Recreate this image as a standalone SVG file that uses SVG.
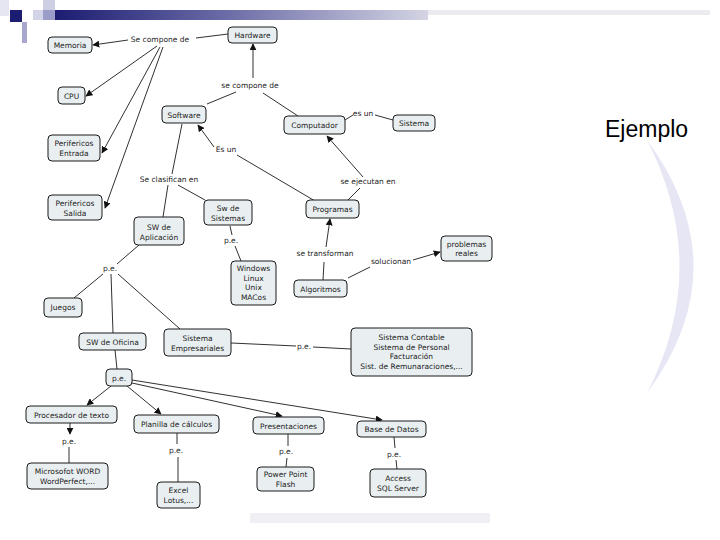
<svg xmlns="http://www.w3.org/2000/svg" width="720" height="540" viewBox="0 0 720 540">
<defs>
<linearGradient id="bar" x1="0" x2="1" y1="0" y2="0">
<stop offset="0" stop-color="#1c1c72"/>
<stop offset="0.45" stop-color="#6a6aa6"/>
<stop offset="1" stop-color="#d4d4e4"/>
</linearGradient>
<marker id="ah" viewBox="0 0 10 10" refX="9" refY="5" markerWidth="7" markerHeight="7" markerUnits="userSpaceOnUse" orient="auto">
<path d="M0,0 L10,5 L0,10 z" fill="#111"/>
</marker>
<style>
.n rect{fill:#e9eff1;stroke:#1a1a1a;stroke-width:1}
.n text,.l{font-family:"DejaVu Sans",Verdana,sans-serif;font-size:7.5px;fill:#222;text-anchor:middle}
.c line,.c path{stroke:#1a1a1a;stroke-width:0.9;fill:none}
.a{marker-end:url(#ah)}
</style>
</defs>
<rect width="720" height="540" fill="#fff"/>
<!-- slide decoration -->
<g id="decor">
<rect x="0" y="0" width="9" height="16" fill="#e6e6f2"/>
<rect x="10" y="10" width="12" height="12" fill="#1c1c72"/>
<rect x="22" y="22" width="5" height="21" fill="#a8a8cc"/>
<rect x="43" y="0" width="12" height="20" fill="#cfcfe4"/>
<rect x="33" y="10" width="10" height="10" fill="#d4d4e8"/>
<rect x="43" y="10" width="12" height="10" fill="#9c9cc8"/>
<rect x="55" y="10" width="373" height="10" fill="url(#bar)"/>
<rect x="428" y="10" width="282" height="5" fill="#ececf0"/>
<path d="M647,140 Q740,267 647,393 Q712,267 647,140 z" fill="#e6e6f4"/>
<rect x="250" y="513" width="240" height="10" fill="#f0f0f4"/>
<text x="605" y="137" font-family="'Liberation Sans',Arial,sans-serif" font-size="23" fill="#000">Ejemplo</text>
</g>
<g class="c" id="connectors">
<line x1="228" y1="34" x2="196" y2="38"/>
<line class="a" x1="128" y1="40" x2="93" y2="45"/>
<line class="a" x1="157" y1="46" x2="86" y2="96"/>
<line class="a" x1="160" y1="47" x2="102" y2="153"/>
<line class="a" x1="163" y1="47" x2="105" y2="208"/>
<line x1="207" y1="104" x2="236" y2="92"/>
<line x1="263" y1="93" x2="298" y2="116"/>
<line class="a" x1="253" y1="78" x2="253" y2="44"/>
<line x1="345" y1="120" x2="353" y2="115"/>
<line x1="375" y1="115" x2="393" y2="120"/>
<line x1="315" y1="201" x2="237" y2="155"/>
<line class="a" x1="214" y1="147" x2="198" y2="125"/>
<line x1="348" y1="200" x2="360" y2="188"/>
<line class="a" x1="363" y1="177" x2="327" y2="136"/>
<line x1="182" y1="124" x2="172" y2="174"/>
<line x1="168" y1="185" x2="163" y2="217"/>
<line x1="178" y1="185" x2="205" y2="200"/>
<line x1="230" y1="226" x2="232" y2="235"/>
<line x1="235" y1="246" x2="241" y2="261"/>
<line x1="323" y1="280" x2="324" y2="262"/>
<line class="a" x1="326" y1="247" x2="330" y2="219"/>
<line x1="348" y1="278" x2="370" y2="267"/>
<line class="a" x1="413" y1="260" x2="440" y2="252"/>
<line x1="139" y1="245" x2="117" y2="264"/>
<line x1="103" y1="274" x2="74" y2="298"/>
<line x1="111" y1="274" x2="113" y2="333"/>
<line x1="118" y1="274" x2="180" y2="329"/>
<line x1="231" y1="343" x2="296" y2="346"/>
<line x1="313" y1="347" x2="351" y2="349"/>
<line x1="115" y1="350" x2="117" y2="369"/>
<line class="a" x1="111" y1="386" x2="87" y2="405"/>
<line class="a" x1="127" y1="386" x2="161" y2="414"/>
<line class="a" x1="132" y1="383" x2="282" y2="416"/>
<line class="a" x1="132" y1="380" x2="382" y2="420"/>
<line class="a" x1="70" y1="423" x2="70" y2="434"/>
<line x1="69" y1="447" x2="69" y2="463"/>
<line x1="177" y1="433" x2="177" y2="444"/>
<line x1="178" y1="457" x2="178" y2="482"/>
<line x1="288" y1="434" x2="288" y2="446"/>
<line x1="287" y1="458" x2="286" y2="467"/>
<line x1="394" y1="437" x2="395" y2="448"/>
<line x1="396" y1="460" x2="397" y2="469"/>
</g>
<g id="labels">
<text class="l" x="160" y="42">Se compone de</text>
<text class="l" x="250" y="88">se compone de</text>
<text class="l" x="363" y="116">es un</text>
<text class="l" x="226" y="152">Es un</text>
<text class="l" x="169" y="182">Se clasifican en</text>
<text class="l" x="231" y="243">p.e.</text>
<text class="l" x="368" y="184">se ejecutan en</text>
<text class="l" x="325" y="256">se transforman</text>
<text class="l" x="391" y="264">solucionan</text>
<text class="l" x="110" y="271">p.e.</text>
<text class="l" x="304" y="349">p.e.</text>
<text class="l" x="69" y="444">p.e.</text>
<text class="l" x="176" y="453">p.e.</text>
<text class="l" x="286" y="454">p.e.</text>
<text class="l" x="394" y="457">p.e.</text>
</g>
<g class="n" id="hardware"><rect x="228" y="27" width="49" height="16" rx="4"/><text x="252.5" y="38">Hardware</text></g>
<g class="n" id="memoria"><rect x="48" y="37" width="44" height="16" rx="4"/><text x="70" y="48">Memoria</text></g>
<g class="n" id="cpu"><rect x="58" y="87" width="27" height="17" rx="4"/><text x="71.5" y="98.5">CPU</text></g>
<g class="n" id="software"><rect x="162" y="106" width="44" height="17" rx="4"/><text x="184" y="117.5">Software</text></g>
<g class="n" id="computador"><rect x="284" y="116" width="61" height="18" rx="4"/><text x="314.5" y="128">Computador</text></g>
<g class="n" id="sistema"><rect x="393" y="115" width="42" height="16" rx="4"/><text x="414" y="126">Sistema</text></g>
<g class="n" id="perifericos-entrada"><rect x="48" y="135" width="52" height="26" rx="4"/><text x="74" y="146">Perifericos</text><text x="74" y="156">Entrada</text></g>
<g class="n" id="perifericos-salida"><rect x="48" y="195" width="54" height="25" rx="4"/><text x="75" y="206">Perifericos</text><text x="75" y="216">Salida</text></g>
<g class="n" id="sw-sistemas"><rect x="204" y="200" width="48" height="25" rx="4"/><text x="228" y="211">Sw de</text><text x="228" y="221">Sistemas</text></g>
<g class="n" id="sw-aplicacion"><rect x="134" y="217" width="50" height="28" rx="4"/><text x="159" y="230">SW de</text><text x="159" y="239.5">Aplicación</text></g>
<g class="n" id="windows"><rect x="231" y="261" width="45" height="44" rx="4"/><text x="253.5" y="271">Windows</text><text x="253.5" y="280.5">Linux</text><text x="253.5" y="290">Unix</text><text x="253.5" y="299.5">MACos</text></g>
<g class="n" id="programas"><rect x="306" y="200" width="53" height="18" rx="4"/><text x="332.5" y="211.5">Programas</text></g>
<g class="n" id="algoritmos"><rect x="294" y="280" width="53" height="17" rx="4"/><text x="320.5" y="291.5">Algoritmos</text></g>
<g class="n" id="problemas"><rect x="441" y="236" width="51" height="25" rx="4"/><text x="466.5" y="246.5">problemas</text><text x="466.5" y="256">reales</text></g>
<g class="n" id="juegos"><rect x="44" y="298" width="38" height="19" rx="4"/><text x="63" y="310">Juegos</text></g>
<g class="n" id="sw-oficina"><rect x="79" y="333" width="67" height="17" rx="4"/><text x="112.5" y="344.5">SW de Oficina</text></g>
<g class="n" id="sistema-empresariales"><rect x="164" y="329" width="67" height="27" rx="4"/><text x="197.5" y="341">Sistema</text><text x="197.5" y="350.5">Empresariales</text></g>
<g class="n" id="pe-box"><rect x="106" y="369" width="26" height="17" rx="4"/><text x="119" y="380.5">p.e.</text></g>
<g class="n" id="procesador"><rect x="26" y="406" width="91" height="17" rx="4"/><text x="71.5" y="417.5">Procesador de texto</text></g>
<g class="n" id="planilla"><rect x="134" y="415" width="85" height="18" rx="4"/><text x="176.5" y="427">Planilla de cálculos</text></g>
<g class="n" id="presentaciones"><rect x="253" y="417" width="71" height="17" rx="4"/><text x="288.5" y="428.5">Presentaciones</text></g>
<g class="n" id="base-datos"><rect x="357" y="421" width="69" height="16" rx="4"/><text x="391.5" y="432">Base de Datos</text></g>
<g class="n" id="sistema-contable"><rect x="351" y="328" width="121" height="48" rx="4"/><text x="411.5" y="340">Sistema Contable</text><text x="411.5" y="349.5">Sistema de Personal</text><text x="411.5" y="359">Facturación</text><text x="411.5" y="368.5">Sist. de Remunaraciones,...</text></g>
<g class="n" id="microsoft"><rect x="27" y="463" width="81" height="26" rx="4"/><text x="67.5" y="474">Microsofot WORD</text><text x="67.5" y="484">WordPerfect,...</text></g>
<g class="n" id="excel"><rect x="157" y="482" width="43" height="26" rx="4"/><text x="178.5" y="493">Excel</text><text x="178.5" y="502.5">Lotus,...</text></g>
<g class="n" id="power-point"><rect x="257" y="467" width="57" height="24" rx="4"/><text x="285.5" y="477">Power Point</text><text x="285.5" y="486.5">Flash</text></g>
<g class="n" id="access"><rect x="370" y="469" width="56" height="28" rx="4"/><text x="398" y="481">Access</text><text x="398" y="491">SQL Server</text></g>
</svg>
